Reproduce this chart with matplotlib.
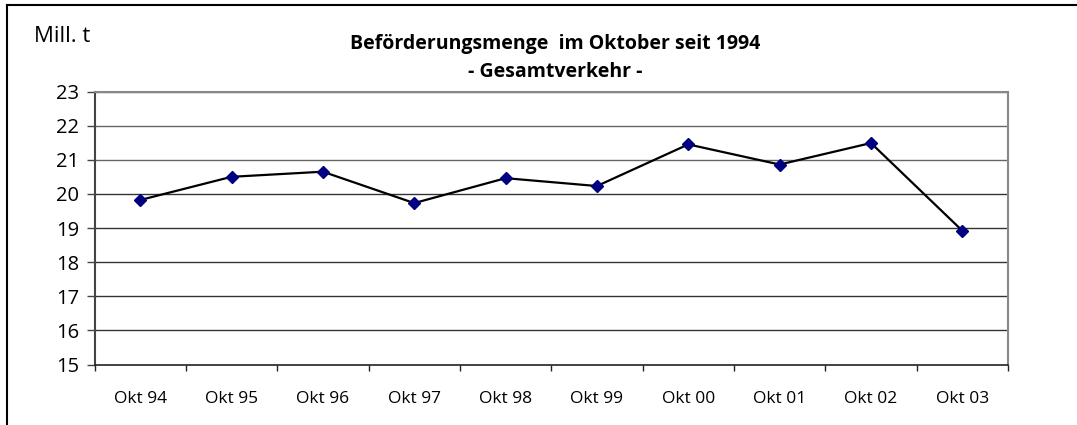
import matplotlib
matplotlib.use("Agg")
import matplotlib.pyplot as plt
from matplotlib.lines import Line2D

categories = ["Okt 94", "Okt 95", "Okt 96", "Okt 97", "Okt 98",
              "Okt 99", "Okt 00", "Okt 01", "Okt 02", "Okt 03"]
values = [19.82, 20.50, 20.65, 19.73, 20.46, 20.23, 21.45, 20.86, 21.49, 18.92]
yticks = [15, 16, 17, 18, 19, 20, 21, 22, 23]
title_line1 = "Beförderungsmenge  im Oktober seit 1994"
title_line2 = "- Gesamtverkehr -"
unit_label = "Mill. t"

plt.rcParams['font.family'] = ['Open Sans', 'DejaVu Sans']

fig = plt.figure(figsize=(10.77, 4.25), dpi=100)
ax = fig.add_axes([94.5 / 1077, 1 - 364.5 / 425, (1008 - 94.5) / 1077, (364.5 - 91.5) / 425])

x = list(range(len(categories)))
ax.plot(x, values, color="black", linewidth=1.6, zorder=3)
ax.plot(x, values, linestyle="none", marker="D", markersize=6.5,
        color="#000080", zorder=4)

ax.set_xlim(-0.5, len(categories) - 0.5)
ax.set_ylim(15, 23)
ax.set_yticks(yticks)
ax.set_yticklabels([str(v) for v in yticks], fontsize=14.5)
ax.set_xticks(x)
ax.set_xticklabels(categories, fontsize=12.5)
ax.tick_params(axis="x", length=0, pad=19)
ax.set_xticks([i - 0.5 for i in range(len(categories) + 1)], minor=True)
ax.tick_params(axis="x", which="minor", length=4, width=1.0, color="#222222")
ax.tick_params(axis="y", length=6, width=1.0, color="#444444", pad=5)

for v in yticks[1:]:
    ax.axhline(v, color="#333333" if v <= 20 else "#666666", linewidth=1.0, zorder=1)

for side in ["top", "right"]:
    ax.spines[side].set_color("#888888")
    ax.spines[side].set_linewidth(1.5)
ax.spines["left"].set_color("#444444")
ax.spines["left"].set_linewidth(1.5)
ax.spines["bottom"].set_color("#222222")
ax.spines["bottom"].set_linewidth(1.2)

fig.text(555 / 1077, 1 - 44 / 425, title_line1, ha="center", va="center",
         fontsize=14, fontweight="bold")
fig.text(555 / 1077, 1 - 72 / 425, title_line2, ha="center", va="center",
         fontsize=14, fontweight="bold")
fig.text(34 / 1077, 1 - 36 / 425, unit_label, ha="left", va="center", fontsize=16)

fig.add_artist(Line2D([6.5 / 1077, 6.5 / 1077], [0, 1 - 5 / 425],
                      transform=fig.transFigure, color="black", linewidth=1.5))
fig.add_artist(Line2D([6.5 / 1077, 1], [1 - 5 / 425, 1 - 5 / 425],
                      transform=fig.transFigure, color="black", linewidth=1.5))

fig.savefig("out.png", dpi=100)
